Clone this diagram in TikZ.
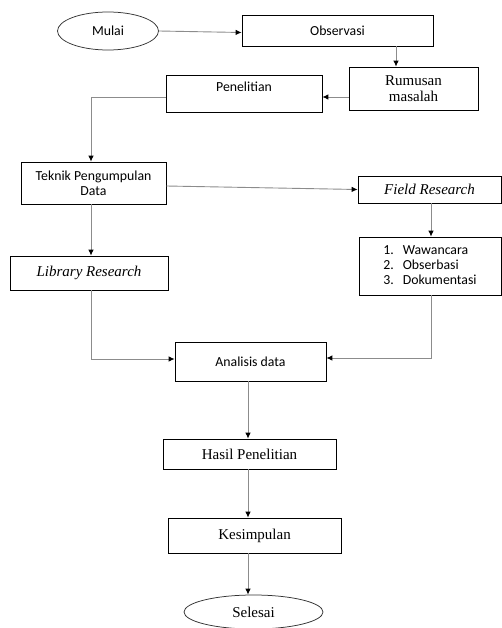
\documentclass[tikz,border=0pt]{standalone}
\usepackage{fontspec}
\setmainfont{Liberation Serif}
\newfontfamily\carl{Carlito}
\usetikzlibrary{arrows.meta,shapes.geometric}
\begin{document}
\begin{tikzpicture}[x=1pt,y=-1pt,
  box/.style={draw=black,line width=0.75pt,rectangle,inner sep=0pt,align=center},
  oval/.style={draw=black!80,line width=0.75pt,ellipse,inner sep=0pt},
  sanstext/.style={font=\carl\fontsize{13.8}{15}\selectfont},
  seriftext/.style={font=\fontsize{15}{16}\selectfont},
  arr/.style={draw=black!45,line width=0.9pt,-{Latex[black,length=6pt,width=5.5pt]}}]
\useasboundingbox (0,0) rectangle (501,628);

\node[oval,sanstext,minimum width=101pt,minimum height=38pt] (mulai) at (108,31) {Mulai};
\node[box,sanstext,minimum width=191pt,minimum height=31pt] (obs) at (337.5,30.5) {Observasi};
\node[box,seriftext,minimum width=129pt,minimum height=43pt] (rum) at (413.5,88.5) {Rumusan\\masalah};
\node[box,minimum width=156pt,minimum height=37pt,
  label={[sanstext,yshift=6.5pt]center:Penelitian}] (pen) at (244,93.5) {};
\node[box,sanstext,minimum width=145pt,minimum height=42pt] (tek) at (93.5,183) {Teknik Pengumpulan\\Data};
\node[box,seriftext,minimum width=143pt,minimum height=27pt] (field) at (429.5,189.5) {\itshape Field Research};
\node[box,sanstext,minimum width=142pt,minimum height=58pt] (list) at (430,266)
  {\begin{tabular}{@{}l@{\hspace{9pt}}l@{}}1. & Wawancara\\ 2. & Obserbasi\\ 3. & Dokumentasi\end{tabular}};
\node[box,seriftext,minimum width=158pt,minimum height=34pt] (lib) at (89,273) {\itshape Library Research};
\node[box,sanstext,minimum width=151pt,minimum height=39pt] (ana) at (250.5,361.5) {Analisis data};
\node[box,seriftext,minimum width=173pt,minimum height=30pt] (has) at (249.5,454) {Hasil Penelitian};
\node[box,seriftext,minimum width=173pt,minimum height=35pt] (kes) at (254.5,535.5) {Kesimpulan};
\node[oval,seriftext,minimum width=139pt,minimum height=34pt] (sel) at (253.5,612) {Selesai};

\draw[arr] (mulai.east) -- ([yshift=-2pt]obs.west);
\draw[arr] ([xshift=58.5pt]obs.south) -- ([xshift=58.5pt]obs.south |- rum.north);
\draw[arr] ([yshift=-8.5pt]rum.west) -- ([yshift=-8.5pt]rum.west -| pen.east);
\draw[arr] ([yshift=-3.5pt]pen.west) -| ([xshift=-2.5pt]tek.north);
\draw[arr] ([yshift=-3pt]tek.east) -- (field.west);
\draw[arr] ([xshift=1.5pt]field.south) -- ([xshift=1.5pt]field.south |- list.north);
\draw[arr] ([xshift=-2.5pt]tek.south) -- ([xshift=-2.5pt]tek.south |- lib.north);
\draw[arr] ([xshift=2pt]lib.south) |- ([yshift=2.5pt]ana.west);
\draw[arr] ([xshift=1pt]list.south) |- ([yshift=3.5pt]ana.east);
\draw[arr] ([xshift=-2.5pt]ana.south) -- ([xshift=-2.5pt]ana.south |- has.north);
\draw[arr] ([xshift=-1.5pt]has.south) -- ([xshift=-1.5pt]has.south |- kes.north);
\draw[arr] ([xshift=-6.5pt]kes.south) -- ([xshift=-6.5pt]kes.south |- sel.north);
\end{tikzpicture}
\end{document}
